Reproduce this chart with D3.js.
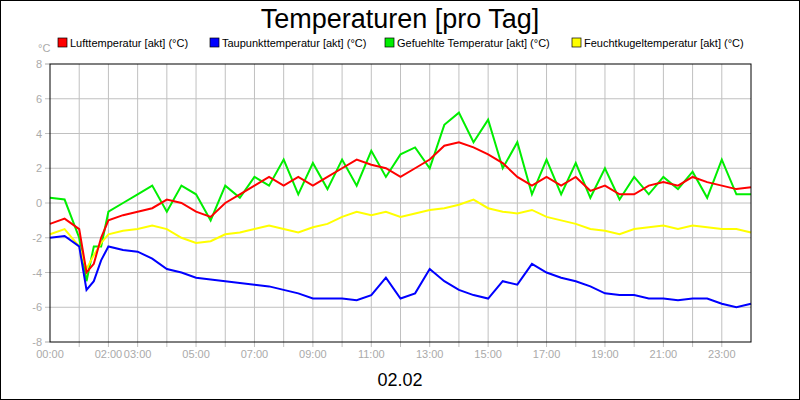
<!DOCTYPE html>
<html><head><meta charset="utf-8">
<script src="https://cdn.jsdelivr.net/npm/d3@7"></script>
<style>body{margin:0}svg{font-family:"Liberation Sans",Arial,sans-serif}</style>
</head><body><div id="chart"></div>
<script>
// data (hours of day)
var times = [0,0.5,1,1.25,1.5,1.75,2,2.5,3,3.5,4,4.5,5,5.5,6,6.5,7,7.5,8,8.5,9,9.5,10,10.5,11,11.5,12,12.5,13,13.5,14,14.5,15,15.5,16,16.5,17,17.5,18,18.5,19,19.5,20,20.5,21,21.5,22,22.5,23,23.5,24];
var luft = [-1.2,-0.9,-1.5,-4,-3.5,-2,-1,-0.7,-0.5,-0.3,0.2,0,-0.5,-0.8,0,0.5,1,1.5,1.0,1.5,1.0,1.5,2,2.5,2.2,2,1.5,2,2.5,3.3,3.5,3.2,2.8,2.3,1.5,1.0,1.5,1.0,1.5,0.7,1.0,0.5,0.5,1.0,1.2,1.0,1.5,1.2,1.0,0.8,0.9];
var taupunkt = [-2.0,-1.9,-2.5,-5.0,-4.5,-3.3,-2.5,-2.7,-2.8,-3.2,-3.8,-4.0,-4.3,-4.4,-4.5,-4.6,-4.7,-4.8,-5.0,-5.2,-5.5,-5.5,-5.5,-5.6,-5.3,-4.3,-5.5,-5.2,-3.8,-4.5,-5.0,-5.3,-5.5,-4.5,-4.7,-3.5,-4.0,-4.3,-4.5,-4.8,-5.2,-5.3,-5.3,-5.5,-5.5,-5.6,-5.5,-5.5,-5.8,-6.0,-5.8];
var gefuehlt = [0.3,0.2,-2,-4.5,-2.5,-2.5,-0.5,0,0.5,1,-0.5,1,0.5,-1,1,0.3,1.5,1.0,2.5,0.5,2.3,0.8,2.5,1,3,1.5,2.8,3.2,2.0,4.5,5.2,3.5,4.8,2.0,3.5,0.5,2.5,0.5,2.3,0.3,2.0,0.2,1.5,0.5,1.5,0.8,1.8,0.3,2.5,0.5,0.5];
var feucht = [-1.8,-1.5,-2.5,-3.8,-3,-2.3,-1.8,-1.6,-1.5,-1.3,-1.5,-2.0,-2.3,-2.2,-1.8,-1.7,-1.5,-1.3,-1.5,-1.7,-1.4,-1.2,-0.8,-0.5,-0.7,-0.5,-0.8,-0.6,-0.4,-0.3,-0.1,0.2,-0.3,-0.5,-0.6,-0.4,-0.8,-1.0,-1.2,-1.5,-1.6,-1.8,-1.5,-1.4,-1.3,-1.5,-1.3,-1.4,-1.5,-1.5,-1.7];
var labels = ["Lufttemperatur [akt] (°C)","Taupunkttemperatur [akt] (°C)","Gefuehlte Temperatur [akt] (°C)","Feuchtkugeltemperatur [akt] (°C)"];
var colors = ["#ff0000","#0000ff","#00ee00","#ffff00"];
var series = [luft, taupunkt, gefuehlt, feucht];
var drawOrder = [2, 3, 1, 0];
var hourLabels = [0,2,3,5,7,9,11,13,15,17,19,21,23];

var margin = {top: 64, left: 50}, width = 701, height = 278;
var svg = d3.select("#chart").append("svg").attr("width", 800).attr("height", 400);
svg.append("rect").attr("x",0.5).attr("y",0.5).attr("width",799).attr("height",399)
  .attr("fill","#fff").attr("stroke","#000");

var x = d3.scaleLinear().domain([0,24]).range([0,width]);
var y = d3.scaleLinear().domain([-8,8]).range([height,0]);
var g = svg.append("g").attr("transform","translate("+margin.left+","+margin.top+")");

// grid
g.selectAll(".vg").data(d3.range(1,24)).enter().append("line")
  .attr("x1",d=>x(d)).attr("x2",d=>x(d)).attr("y1",0).attr("y2",height+5)
  .attr("stroke","#c0c0c0");
g.selectAll(".hg").data(d3.range(-6,8,2)).enter().append("line")
  .attr("x1",-5).attr("x2",width).attr("y1",d=>y(d)).attr("y2",d=>y(d))
  .attr("stroke","#c0c0c0");

// axis labels
g.selectAll(".yl").data(d3.range(-8,9,2)).enter().append("text")
  .attr("x",-8).attr("y",d=>y(d)+4).attr("text-anchor","end")
  .attr("font-size",11).attr("fill","#aaa").text(d=>d);
g.selectAll(".yt").data([-8,8]).enter().append("line")
  .attr("x1",-5).attr("x2",0).attr("y1",d=>y(d)).attr("y2",d=>y(d)).attr("stroke","#aaa");
g.selectAll(".xl").data(hourLabels).enter().append("text")
  .attr("x",d=>x(d)).attr("y",height+16).attr("text-anchor","middle")
  .attr("font-size",11).attr("fill","#aaa").text(d=>(d<10?"0":"")+d+":00");
svg.append("text").attr("x",38).attr("y",52).attr("font-size",11).attr("fill","#aaa").text("°C");

// lines
var line = d3.line().x((d,j)=>x(times[j])).y(d=>y(d));
drawOrder.forEach(function(i){
  g.append("path").datum(series[i]).attr("d",line).attr("fill","none")
    .attr("stroke",colors[i]).attr("stroke-width",2);
});
g.append("rect").attr("width",width).attr("height",height).attr("fill","none").attr("stroke","#000");

// legend
var lx = [58,210,385,572];
labels.forEach(function(l,i){
  svg.append("rect").attr("x",lx[i]).attr("y",38).attr("width",9).attr("height",9)
    .attr("fill",colors[i]).attr("stroke","#000").attr("stroke-width",0.7);
  svg.append("text").attr("x",lx[i]+12).attr("y",47).attr("font-size",11).text(l);
});

svg.append("text").attr("x",400).attr("y",28).attr("text-anchor","middle").attr("font-size",27).text("Temperaturen [pro Tag]");
svg.append("text").attr("x",400).attr("y",386).attr("text-anchor","middle").attr("font-size",18).text("02.02");
</script></body></html>
